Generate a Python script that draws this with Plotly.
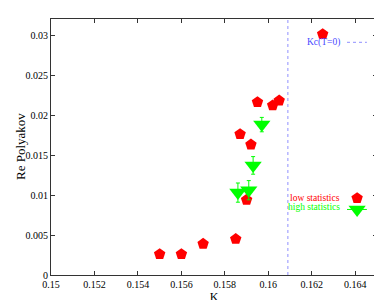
import plotly.graph_objects as go

# Data
low_K = [0.155, 0.156, 0.157, 0.1585, 0.1587, 0.1590, 0.1592, 0.1595, 0.1602, 0.1605, 0.1625]
low_P = [0.0026, 0.0026, 0.0039, 0.0045, 0.0176, 0.0094, 0.0163, 0.0216, 0.0212, 0.0218, 0.0301]
high_K = [0.1586, 0.1591, 0.1593, 0.1597]
high_P = [0.0103, 0.0106, 0.0137, 0.0188]
high_err = [0.0012, 0.0012, 0.0011, 0.0009]
Kc = 0.1609
x_ticks = [0.15, 0.152, 0.154, 0.156, 0.158, 0.16, 0.162, 0.164]
y_ticks = [0, 0.005, 0.01, 0.015, 0.02, 0.025, 0.03]

FONT = "Liberation Serif"
RED = "#ff0000"
GREEN = "#00ff00"
BLUE = "#8f8fff"

fig = go.Figure()

fig.add_trace(go.Scatter(
    x=low_K, y=low_P, mode="markers",
    marker=dict(symbol="pentagon", size=12, color=RED, line=dict(width=0)),
    showlegend=False))

fig.add_trace(go.Scatter(
    x=high_K, y=high_P, mode="markers",
    marker=dict(symbol="triangle-down", size=15, color=GREEN, line=dict(width=0)),
    error_y=dict(type="data", array=high_err, color=GREEN, thickness=1, width=2),
    showlegend=False))

# Kc vertical dotted line
fig.add_vline(x=Kc, line=dict(color=BLUE, width=1, dash="dot"))

# Legend samples on overlay axes (paper-like 0..1)
fig.add_trace(go.Scatter(
    x=[0.908, 0.969], y=[0.909, 0.909], mode="lines",
    line=dict(color=BLUE, width=1, dash="dot"),
    xaxis="x2", yaxis="y2", showlegend=False, hoverinfo="skip"))
fig.add_trace(go.Scatter(
    x=[0.939], y=[0.30], mode="markers",
    marker=dict(symbol="pentagon", size=12, color=RED),
    xaxis="x2", yaxis="y2", showlegend=False, hoverinfo="skip"))
fig.add_trace(go.Scatter(
    x=[0.908, 0.969], y=[0.256, 0.256], mode="lines",
    line=dict(color=GREEN, width=1),
    xaxis="x2", yaxis="y2", showlegend=False, hoverinfo="skip"))
fig.add_trace(go.Scatter(
    x=[0.939], y=[0.256], mode="markers",
    marker=dict(symbol="triangle-down", size=15, color=GREEN),
    xaxis="x2", yaxis="y2", showlegend=False, hoverinfo="skip"))

anns = [
    dict(text="Kc(T=0)", x=0.892, y=0.909, color="#4a4aff"),
    dict(text="low statistics", x=0.892, y=0.299, color=RED),
    dict(text="high statistics", x=0.892, y=0.264, color=GREEN),
]
for a in anns:
    fig.add_annotation(text=a["text"], xref="paper", yref="paper", x=a["x"], y=a["y"],
                       xanchor="right", yanchor="middle", showarrow=False,
                       font=dict(family=FONT, size=9.5, color=a["color"]))

fig.add_annotation(text="Re Polyakov", xref="paper", yref="paper", x=-0.095, y=0.5,
                   xanchor="center", yanchor="middle", showarrow=False, textangle=-90,
                   font=dict(family=FONT, size=13, color="black"))

axis_common = dict(showgrid=False, zeroline=False, showline=True, linecolor="#333",
                   linewidth=1, mirror="ticks", ticks="inside", ticklen=4,
                   tickcolor="#333",
                   tickfont=dict(family=FONT, size=10, color="black"))

fig.update_layout(
    width=382, height=300,
    margin=dict(l=43, r=13, t=10, b=26),
    paper_bgcolor="white", plot_bgcolor="white",
    font=dict(family=FONT, color="black"),
    xaxis=dict(range=[0.15, 0.165], tickvals=x_ticks, ticktext=[str(v) for v in x_ticks],
               title=dict(text="K", font=dict(family=FONT, size=12), standoff=0),
               automargin=True, **axis_common),
    yaxis=dict(range=[0, 0.032], tickvals=y_ticks, ticktext=[str(v) for v in y_ticks],
               automargin=False, **axis_common),
    xaxis2=dict(range=[0, 1], overlaying="x", visible=False),
    yaxis2=dict(range=[0, 1], overlaying="y", visible=False),
    showlegend=False,
)

fig.write_html("out.html")
